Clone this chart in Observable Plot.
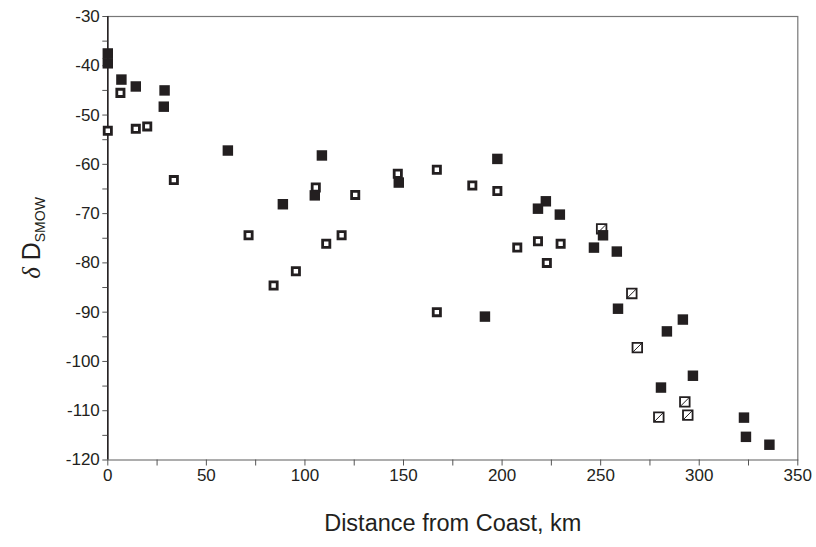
<!DOCTYPE html>
<html>
<head>
<meta charset="utf-8">
<script src="https://cdn.jsdelivr.net/npm/d3@7"></script>
<script src="https://cdn.jsdelivr.net/npm/@observablehq/plot@0.6"></script>
<style>
  html, body { margin: 0; padding: 0; background: #fff; }
  #chart { width: 816px; height: 547px; }
</style>
</head>
<body>
<div id="chart"></div>
<script>
// Filled squares
const filledDist  = [0, 0, 6.9, 14.2, 28.8, 28.4, 60.9, 108.6, 105.0, 88.8, 147.6, 197.6, 222.2, 218.2, 229.3, 191.3, 246.6, 251.2, 258.2, 258.8, 291.7, 283.6, 296.8, 280.6, 322.7, 323.7, 335.6];
const filledDelta = [-37.5, -39.5, -42.8, -44.2, -45.0, -48.3, -57.2, -58.2, -66.3, -68.1, -63.7, -58.9, -67.5, -69.0, -70.2, -90.9, -76.9, -74.4, -77.7, -89.3, -91.5, -93.9, -102.9, -105.3, -111.4, -115.3, -116.9];
// Open squares
const openDist  = [6.4, 0, 14.2, 20.0, 33.5, 105.5, 71.4, 110.8, 118.6, 95.4, 84.1, 125.5, 147.1, 166.9, 184.9, 197.6, 207.7, 218.2, 229.7, 222.7, 166.9];
const openDelta = [-45.5, -53.2, -52.8, -52.3, -63.2, -64.7, -74.4, -76.1, -74.4, -81.7, -84.6, -66.2, -61.9, -61.1, -64.3, -65.4, -76.9, -75.6, -76.1, -80.0, -90.0];
// Hatched squares
const hatchDist  = [250.5, 265.8, 268.6, 292.7, 294.2, 279.5];
const hatchDelta = [-73.1, -86.2, -97.2, -108.2, -110.9, -111.3];

const xTicks = [0, 50, 100, 150, 200, 250, 300, 350];
const xMinorTicks = [25, 75, 125, 175, 225, 275, 325];
const yTicks = [-30, -40, -50, -60, -70, -80, -90, -100, -110, -120];
const yMinorTicks = [-35, -45, -55, -65, -75, -85, -95, -105, -115];
const xLabel = "Distance from Coast, km";

const toRows = (xs, ys) => xs.map((x, i) => ({x, y: ys[i]}));
const filled = toRows(filledDist, filledDelta);
const open = toRows(openDist, openDelta);
const hatch = toRows(hatchDist, hatchDelta);

const ink = "#231f20";
const slash = {
  draw(context, size) {
    const s = Math.sqrt(size) / 2;
    context.moveTo(-s, s);
    context.lineTo(s, -s);
  }
};

const chart = Plot.plot({
  width: 816,
  height: 547,
  marginLeft: 107.3,
  marginRight: 18.7,
  marginTop: 16,
  marginBottom: 87.5,
  x: {domain: [0, 350]},
  y: {domain: [-120, -30]},
  style: {fontFamily: "'Liberation Sans', Arial, Helvetica, sans-serif", fontSize: "17px", color: ink, background: "white"},
  marks: [
    Plot.frame({stroke: "#777", strokeWidth: 1.2}),
    Plot.ruleX([0], {stroke: ink, strokeWidth: 1.5}),
    Plot.axisX(xTicks, {tickSize: 6, tickPadding: 3, tickFormat: d => String(d), label: null, stroke: "#555"}),
    Plot.axisX(xMinorTicks, {tickSize: 6, tickFormat: () => "", label: null, stroke: "#555"}),
    Plot.axisY(yTicks, {tickSize: 5, tickPadding: 3, tickFormat: d => String(d), label: null, stroke: "#555"}),
    Plot.axisY(yMinorTicks, {tickSize: 5, tickFormat: () => "", label: null, stroke: "#555"}),
    Plot.dot(open, {x: "x", y: "y", symbol: "square", r: 4.07, fill: "white", stroke: ink, strokeWidth: 2.8}),
    Plot.dot(hatch, {x: "x", y: "y", symbol: "square", r: 5.4, fill: "white", stroke: ink, strokeWidth: 1.8}),
    Plot.dot(hatch, {x: "x", y: "y", symbol: slash, r: 5.4, fill: "none", stroke: ink, strokeWidth: 1}),
    Plot.dot(filled, {x: "x", y: "y", symbol: "square", r: 5.9, fill: ink, stroke: "none"}),
    Plot.text([xLabel], {text: d => d, frameAnchor: "bottom", dy: 71, fontSize: 23.5, fill: ink})
  ]
});

document.getElementById("chart").appendChild(chart);

// Y-axis label: δ D_SMOW
const svg = d3.select(chart);
const yl = svg.append("text")
  .attr("transform", "translate(40, 238) rotate(-90)")
  .attr("text-anchor", "middle")
  .attr("fill", ink)
  .style("font-family", "'Liberation Sans', Arial, Helvetica, sans-serif");
yl.append("tspan").attr("font-style", "italic").attr("font-size", 25).style("font-family", "'Liberation Serif', 'Times New Roman', serif").text("δ");
yl.append("tspan").attr("font-size", 25).text(" D");
yl.append("tspan").attr("font-size", 14).attr("dy", 5).text("SMOW");
</script>
</body>
</html>
